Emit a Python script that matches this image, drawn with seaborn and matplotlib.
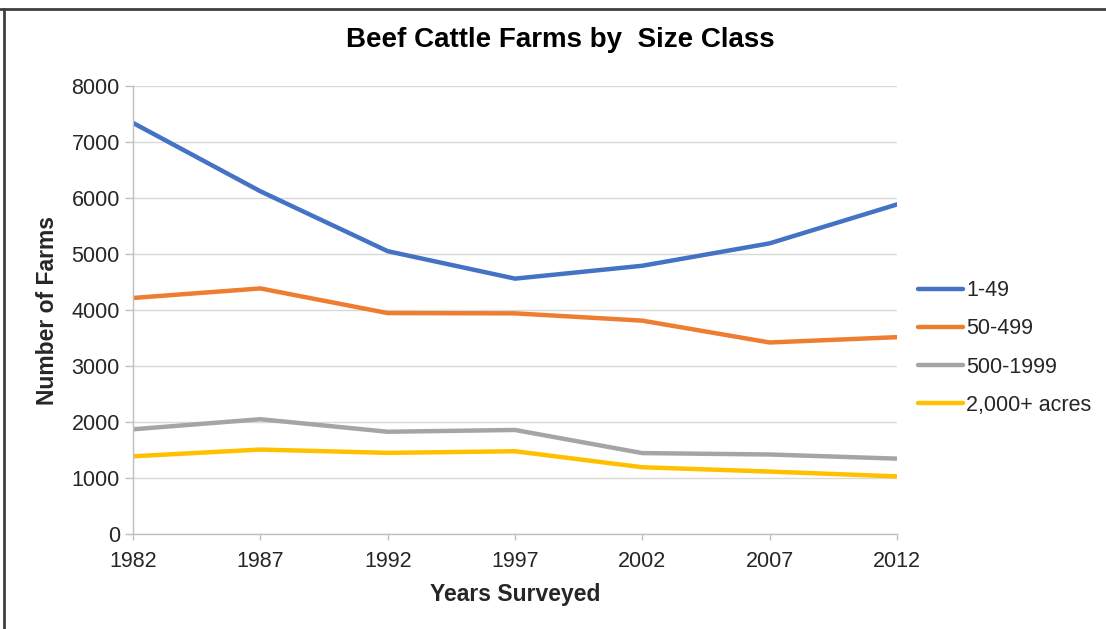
import matplotlib
matplotlib.use("Agg")
import matplotlib.pyplot as plt
import seaborn as sns
import pandas as pd
from matplotlib.lines import Line2D

years = [1982, 1987, 1992, 1997, 2002, 2007, 2012]
size_1_49 = [7340, 6120, 5050, 4560, 4790, 5190, 5885]
size_50_499 = [4215, 4385, 3945, 3940, 3810, 3420, 3515]
size_500_1999 = [1870, 2050, 1826, 1858, 1445, 1420, 1346]
size_2000_plus = [1388, 1508, 1449, 1478, 1192, 1115, 1029]
series_names = ["1-49", "50-499", "500-1999", "2,000+ acres"]
colors = ["#4472C4", "#ED7D31", "#A5A5A5", "#FFC000"]

rows = []
for name, vals in zip(series_names, [size_1_49, size_50_499, size_500_1999, size_2000_plus]):
    for y, v in zip(years, vals):
        rows.append({"Year": y, "Farms": v, "Class": name})
df = pd.DataFrame(rows)

sns.set_theme(style="white")
plt.rcParams["font.family"] = ["Liberation Sans", "DejaVu Sans"]

fig = plt.figure(figsize=(11.06, 6.29), dpi=100)
ax = fig.add_axes([0.1203, 0.151, 0.6907, 0.7123])

sns.lineplot(data=df, x="Year", y="Farms", hue="Class", palette=colors,
             hue_order=series_names, linewidth=3.2, ax=ax, legend=True)

ax.set_xlim(1982, 2012)
ax.set_ylim(0, 8000)
ax.set_xticks(years)
ax.set_yticks(range(0, 8001, 1000))
ax.yaxis.grid(True, color="#d9d9d9", linewidth=1)
ax.set_axisbelow(True)
for s in ["top", "right"]:
    ax.spines[s].set_visible(False)
for s in ["left", "bottom"]:
    ax.spines[s].set_color("#bfbfbf")
    ax.spines[s].set_linewidth(1)
ax.tick_params(axis="y", which="major", direction="out", length=5.5, width=1,
               color="#bfbfbf", labelsize=15.5, labelcolor="#262626", pad=4, left=True)
ax.tick_params(axis="x", which="major", direction="out", length=4, width=1,
               color="#bfbfbf", labelsize=15.5, labelcolor="#262626", pad=8, bottom=True)

ax.set_xlabel("Years Surveyed", fontsize=16.5, fontweight="bold", color="#262626", labelpad=8)
ax.set_ylabel("Number of Farms", fontsize=16.5, fontweight="bold", color="#262626", labelpad=9)
fig.text(0.507, 0.936, "Beef Cattle Farms by  Size Class", ha="center", va="center",
         fontsize=20, fontweight="bold", color="#000000")

leg = ax.legend(loc="center left", bbox_to_anchor=(1.016, 0.415), frameon=False,
                fontsize=15.5, handlelength=2.1, handletextpad=0.15, labelspacing=0.8,
                borderaxespad=0)
for t in leg.get_texts():
    t.set_color("#262626")

fig.add_artist(Line2D([0, 1], [0.986, 0.986], color="#404040", linewidth=2, transform=fig.transFigure))
fig.add_artist(Line2D([0.004, 0.004], [0, 0.986], color="#404040", linewidth=2, transform=fig.transFigure))

fig.savefig("out.png", dpi=100)
